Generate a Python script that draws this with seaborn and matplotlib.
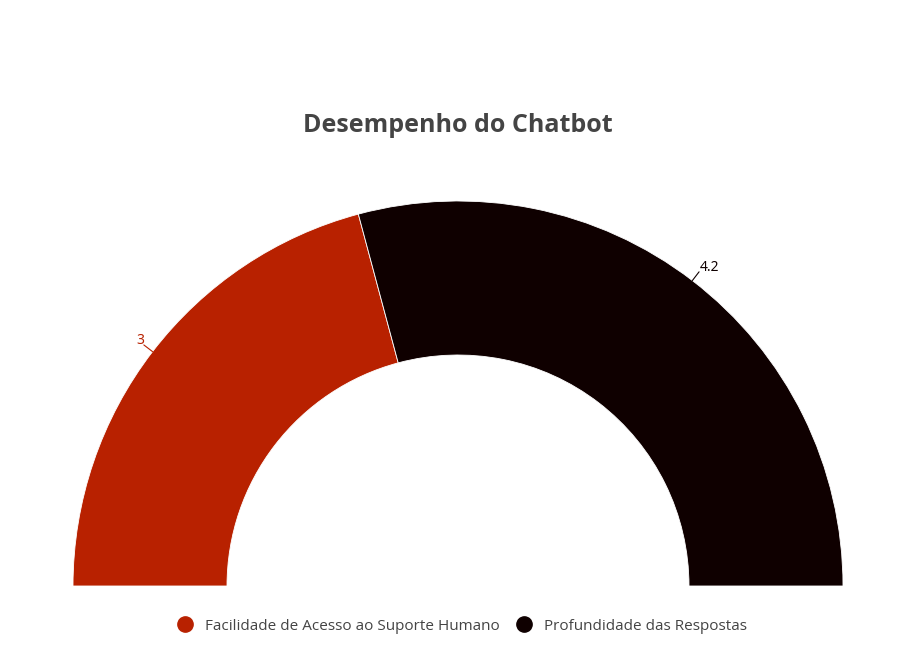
import numpy as np
import matplotlib
matplotlib.use("Agg")
import matplotlib.pyplot as plt
from matplotlib.lines import Line2D
import seaborn as sns

# Data
categories = ["Facilidade de Acesso ao Suporte Humano", "Profundidade das Respostas"]
values = [3, 4.2]
labels = ["3", "4.2"]
colors = ["#B82100", "#0F0000"]

sns.set_style("white")
plt.rcParams["font.family"] = ["Open Sans", "DejaVu Sans"]

W, H = 916, 666
fig = plt.figure(figsize=(W / 100, H / 100), dpi=100)
ax = fig.add_axes([0, 0, 1, 1])

# gauge geometry in pixel units (y up)
cx, cy = 458, H - 586
r_out, r_in = 385, 231

total = sum(values)
# hidden half so the donut covers only the upper semicircle
wedges, _ = ax.pie(values + [total], colors=colors + ["none"], center=(cx, cy),
                   radius=r_out, startangle=180, counterclock=False,
                   wedgeprops=dict(width=r_out - r_in, edgecolor="white", linewidth=0.6))
wedges[-1].set_edgecolor("none")

# outside labels with short leader lines
start = 180.0
for val, lab, col in zip(values, labels, colors):
    span = val / total * 180.0
    mid = np.deg2rad(start - span / 2)
    x0, y0 = cx + r_out * np.cos(mid), cy + r_out * np.sin(mid)
    x1, y1 = cx + (r_out + 11) * np.cos(mid), cy + (r_out + 11) * np.sin(mid)
    ax.plot([x0, x1], [y0, y1], color=col, lw=0.8)
    ha = "right" if np.cos(mid) < 0 else "left"
    ax.text(x1 + (0 if ha == "right" else 1), y1 + 4, lab, color=col, fontsize=10,
            ha=ha, va="center", family=["Noto Sans", "DejaVu Sans"])
    start -= span

ax.set_xlim(0, W)
ax.set_ylim(0, H)
ax.set_aspect("equal")
ax.axis("off")

fig.text(0.5, 1 - 126 / H, "Desempenho do Chatbot", ha="center", va="center",
         fontsize=18, fontweight="bold", color="#444444")

handles = [Line2D([], [], marker="o", linestyle="none", markersize=11,
                  markerfacecolor=c, markeredgecolor=c) for c in colors]
fig.legend(handles, categories, loc="center", bbox_to_anchor=(0.5, 1 - 626 / H),
           ncol=2, frameon=False, fontsize=11, handletextpad=0.3, columnspacing=0.6,
           labelcolor="#444444")

fig.savefig("out.png", dpi=100, facecolor="white")
